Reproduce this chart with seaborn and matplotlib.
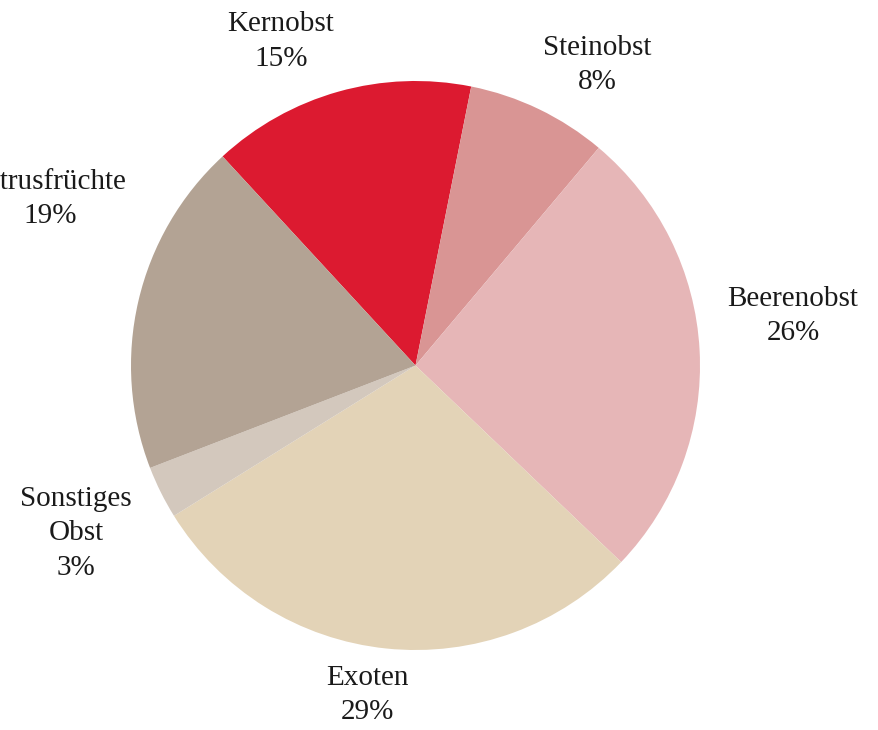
import numpy as np
import matplotlib
matplotlib.use("Agg")
import matplotlib.pyplot as plt
import seaborn as sns

# Obstsorten, Anteile in Prozent (im Uhrzeigersinn ab Kernobst)
categories = ["Kernobst", "Steinobst", "Beerenobst", "Exoten", "Sonstiges\nObst", "Zitrusfrüchte"]
shares = [15, 8, 26, 29, 3, 19]
colors = ["#DC1A30", "#D99594", "#E6B6B7", "#E3D3B7", "#D3C8BD", "#B3A394"]

# label anchor (radius factor, angle in degrees) relative to pie centre
label_layout = [(1.233, 112.6), (1.234, 58.8), (1.338, 7.5),
                (1.17, 261.7), (1.33, 206.3), (1.41, 155.5)]

sns.set_theme(style="white")
plt.rcParams["font.family"] = ["Liberation Serif", "DejaVu Serif"]

fig = plt.figure(figsize=(8.79, 7.30), dpi=100)
cx, cy, r = 415.5, 365.5, 284.5
ax = fig.add_axes([(cx - r) / 879, (730 - cy - r) / 730, 2 * r / 879, 2 * r / 730])

wedges, _ = ax.pie(
    shares,
    colors=colors,
    startangle=132.7,
    counterclock=False,
    radius=1,
    wedgeprops={"linewidth": 0},
)
ax.set_xlim(-1, 1)
ax.set_ylim(-1, 1)
ax.axis("off")

for cat, val, (rf, ang) in zip(categories, shares, label_layout):
    a = np.deg2rad(ang)
    ax.text(rf * np.cos(a), rf * np.sin(a), f"{cat}\n{val}%",
            ha="center", va="center", multialignment="center",
            fontsize=21, color="#1a1a1a", linespacing=1.42, clip_on=False)

fig.savefig("out.png", dpi=100, facecolor="white")
